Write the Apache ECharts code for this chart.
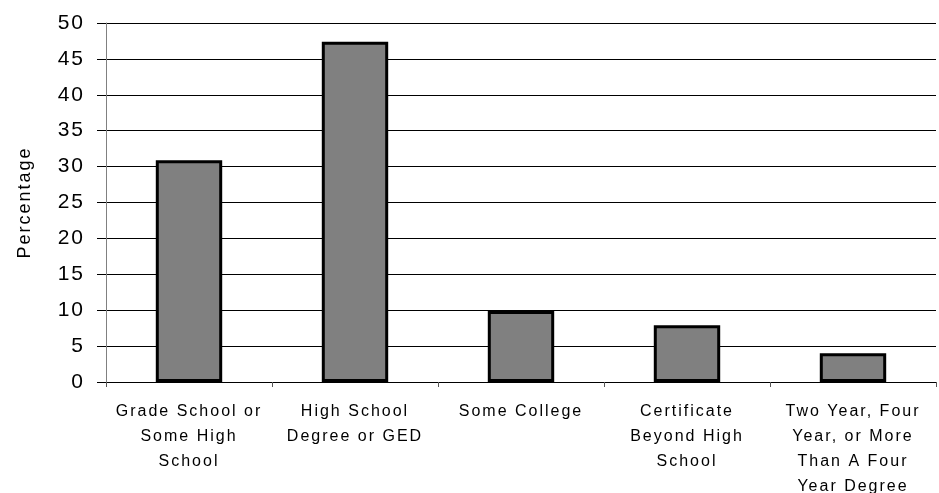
<!DOCTYPE html>
<html>
<head>
<meta charset="utf-8">
<script src="https://cdn.jsdelivr.net/npm/echarts@6/dist/echarts.min.js"></script>
<style>
  html, body { margin: 0; padding: 0; background: #fff; }
  #chart { width: 939px; height: 493px; }
</style>
</head>
<body>
<div id="chart"></div>
<script>
// Highest level of education completed
const categories = [
  'Grade School or\nSome High\nSchool',
  'High School\nDegree or GED',
  'Some College',
  'Certificate\nBeyond High\nSchool',
  'Two Year, Four\nYear, or More\nThan A Four\nYear Degree'
];
const percentages = [30.9, 47.4, 9.9, 7.9, 4.0];
const yTicks = { min: 0, max: 50, interval: 5 };

// Wide, slightly spaced lettering for all chart text
const baseFillText = CanvasRenderingContext2D.prototype.fillText;
CanvasRenderingContext2D.prototype.fillText = function () {
  this.letterSpacing = '2px';
  return baseFillText.apply(this, arguments);
};

const FONT = 'Liberation Sans, Arial, sans-serif';
const chart = echarts.init(document.getElementById('chart'), null, { renderer: 'canvas' });
chart.setOption({
  animation: false,
  backgroundColor: '#ffffff',
  grid: { left: 106, right: 3, top: 23, bottom: 111, containLabel: false, outerBoundsMode: 'none' },
  xAxis: {
    type: 'category',
    data: categories,
    axisLine: { show: true, lineStyle: { color: '#000', width: 1 } },
    axisTick: { show: true, alignWithLabel: false, length: 5, lineStyle: { color: '#555' } },
    axisLabel: {
      color: '#000',
      fontFamily: FONT,
      fontSize: 16,
      lineHeight: 25,
      margin: 17,
      interval: 0
    }
  },
  yAxis: {
    type: 'value',
    min: yTicks.min,
    max: yTicks.max,
    interval: yTicks.interval,
    name: 'Percentage',
    nameLocation: 'middle',
    nameGap: 72,
    nameRotate: 90,
    nameTextStyle: { color: '#000', fontFamily: FONT, fontSize: 18 },
    axisLine: { show: true, lineStyle: { color: '#808080', width: 1 } },
    axisTick: { show: true, length: 9, lineStyle: { color: '#000' } },
    axisLabel: {
      color: '#000',
      fontFamily: FONT,
      fontSize: 21,
      margin: 21
    },
    splitLine: { show: true, lineStyle: { color: '#000', width: 1 } }
  },
  series: [{
    type: 'bar',
    data: percentages,
    barWidth: '40%',
    itemStyle: { color: '#808080', borderColor: '#000', borderWidth: 3 }
  }]
});
</script>
</body>
</html>
